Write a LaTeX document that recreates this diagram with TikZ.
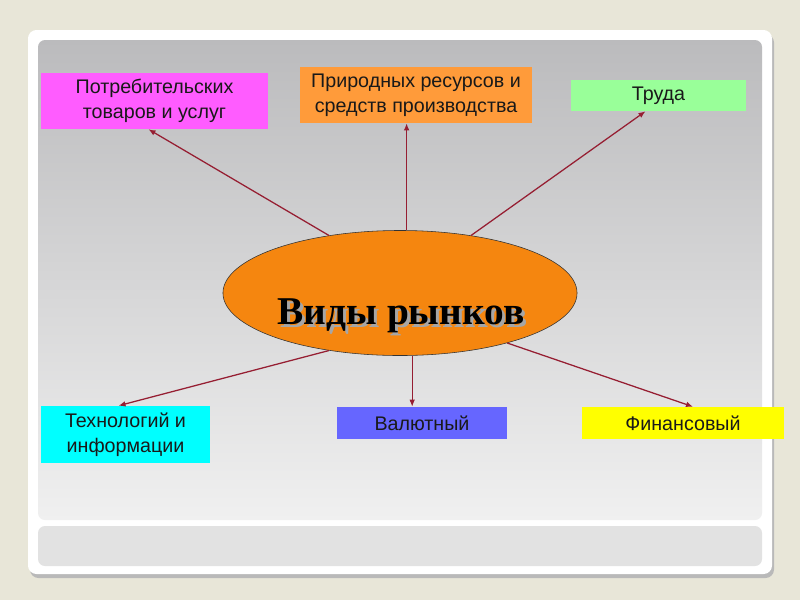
\documentclass[tikz,border=0pt]{standalone}
\usepackage{fontspec}
\setmainfont{Liberation Sans}
\newfontfamily\titlefont{Liberation Serif}
\usetikzlibrary{positioning,calc,shapes.geometric,arrows.meta}

\definecolor{pagebg}{HTML}{E8E6D8}
\definecolor{panelgray}{HTML}{BBBBBD}
\definecolor{panellight}{HTML}{F0F0F0}
\definecolor{stripgray}{HTML}{E2E2E2}
\definecolor{arrred}{RGB}{150,30,50}
\definecolor{cmagenta}{HTML}{FF5CFF}
\definecolor{corange}{HTML}{FF9B3A}
\definecolor{cgreen}{HTML}{99FF99}
\definecolor{ccyan}{HTML}{00FFFF}
\definecolor{cblue}{HTML}{6666FF}
\definecolor{cyellow}{HTML}{FFFF00}
\definecolor{ellorange}{HTML}{F5860F}

\begin{document}
\begin{tikzpicture}[x=0.025cm,y=-0.025cm,
    kind/.style={rectangle,inner sep=0pt,align=center,font=\fontsize{14}{18}\selectfont,text=black!90},
    link/.style={draw=arrred,line width=0.9pt,-{Latex[length=5pt,width=4pt]}}]
    % slide background
    \useasboundingbox (0,0) rectangle (800,600);
    \fill[pagebg] (0,0) rectangle (800,600);
    \fill[gray!55,rounded corners=6] (30,34) rectangle (774,578);
    \fill[white,rounded corners=6] (28,30) rectangle (772,574);
    \shade[rounded corners=5,top color=panelgray,bottom color=panellight] (38,40) rectangle (762,520);
    \fill[stripgray,rounded corners=5] (38,526) rectangle (762,566);

    % centre
    \node[ellipse,draw=black!80,fill=ellorange,inner sep=0pt,minimum width=8.85cm,minimum height=3.125cm] (ell) at (400,293) {};
    \node[font=\titlefont\bfseries\fontsize{28}{32}\selectfont,text=gray!70] (titleshadow) at (404,319) {Виды рынков};
    \node[font=\titlefont\bfseries\fontsize{28}{32}\selectfont,text=black] (title) at (401,316) {Виды рынков};

    % kinds of markets
    \node[kind,fill=cmagenta,minimum width=5.675cm,minimum height=1.4cm] (cons) at (154.5,101) {Потребительских\\товаров и услуг};
    \node[kind,fill=corange,minimum width=5.8cm,minimum height=1.4cm] (nat) at (416,95) {Природных ресурсов и\\средств производства};
    \node[kind,fill=cgreen,minimum width=4.375cm,minimum height=0.775cm] (lab) at (658.5,95.5) {Труда};
    \node[kind,fill=ccyan,minimum width=4.225cm,minimum height=1.425cm] (tech) at (125.5,434.5) {Технологий и\\информации};
    \node[kind,fill=cblue,minimum width=4.25cm,minimum height=0.8cm] (curr) at (422,423) {Валютный};
    \node[kind,fill=cyellow,minimum width=5.05cm,minimum height=0.8cm] (fin) at (683,423) {Финансовый};

    \draw[link] (ell.141) -- ($(cons.south)+(-6,0)$);
    \draw[link] (ell.84) -- (ell.84 |- nat.south);
    \draw[link] (ell.39) -- ($(lab.south)+(-13,0)$);
    \draw[link] (ell.219) -- ($(tech.north)+(-7,0)$);
    \draw[link] (ell.281) -- (ell.281 |- curr.north);
    \draw[link] (ell.335) -- ($(fin.north)+(10,0)$);
  \end{tikzpicture}
\end{document}
